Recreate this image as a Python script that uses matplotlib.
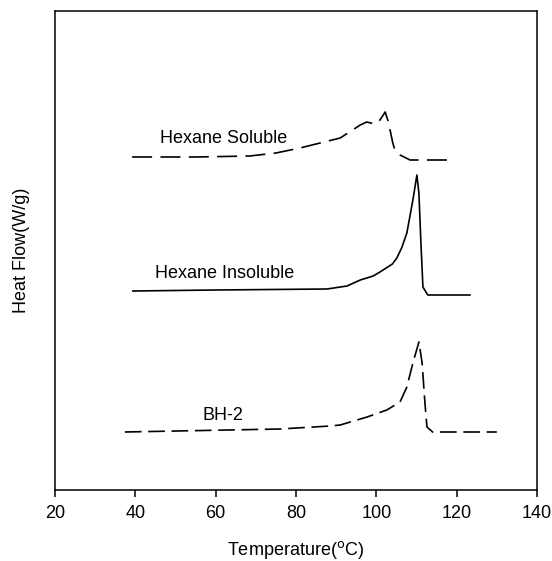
import matplotlib
matplotlib.use("Agg")
import matplotlib.pyplot as plt

plt.rcParams['font.family'] = ['Liberation Sans', 'DejaVu Sans']

# Hexane Soluble (dashed)
sol_T = [39.2, 55.0, 68.5, 75.0, 81.0, 86.0, 91.0, 96.0, 97.6, 99.7, 100.9, 102.2,
         103.0, 104.1, 104.6, 105.9, 108.4, 110.0, 117.8]
sol_hf = [333, 333, 334, 337, 342, 347, 352, 365, 368, 366, 370, 378,
          368, 347, 340, 335, 330, 330, 330]

# Hexane Insoluble (solid)
ins_T = [39.4, 60.0, 87.7, 92.7, 96.0, 99.2, 100.9, 104.0, 105.1, 106.3, 107.6, 109.1,
         110.1, 110.6, 111.1, 111.6, 112.8, 123.3]
ins_hf = [199, 200, 201, 204, 210, 214, 218, 226, 232, 242, 257, 290,
          315, 297, 247, 203, 195, 195]

# BH-2 (dashed)
bh_T = [37.4, 76.0, 88.5, 91.0, 97.7, 102.6, 105.9, 107.6, 109.1, 110.6,
        111.4, 112.1, 112.6, 114.0, 130.0]
bh_hf = [58, 61, 64, 65, 73, 80, 88, 103, 127, 148,
         127, 87, 63, 58, 58]

labels = ["Hexane Soluble", "Hexane Insoluble", "BH-2"]
label_T = [46.1, 44.9, 56.6]
label_hf = [352, 217, 74]

xticks = [20, 40, 60, 80, 100, 120, 140]

fig = plt.figure(figsize=(5.52, 5.61), dpi=100)
ax = fig.add_axes([55/552, 1 - 490/561, (537 - 55)/552, (490 - 11)/561])

l1, = ax.plot(sol_T, sol_hf, color='black', lw=1.2)
l1.set_dashes([12, 5])
ax.plot(ins_T, ins_hf, color='black', lw=1.2)
l3, = ax.plot(bh_T, bh_hf, color='black', lw=1.2)
l3.set_dashes([10, 4])

for t, x, y in zip(labels, label_T, label_hf):
    ax.text(x, y, t, ha='left', va='center', fontsize=13)

ax.set_xlim(20, 140)
ax.set_ylim(0, 479)
ax.set_xticks(xticks)
ax.set_xticklabels([str(v) for v in xticks], fontsize=13)
ax.set_yticks([])
ax.tick_params(axis='x', direction='out', length=5, width=1.1, pad=6)
for s in ax.spines.values():
    s.set_linewidth(1.1)

ax.set_xlabel(r'Temperature($^{\rm o}$C)', fontsize=13, labelpad=12)
ax.set_ylabel('Heat Flow(W/g)', fontsize=13, labelpad=18)

fig.savefig('out.png', dpi=100)
